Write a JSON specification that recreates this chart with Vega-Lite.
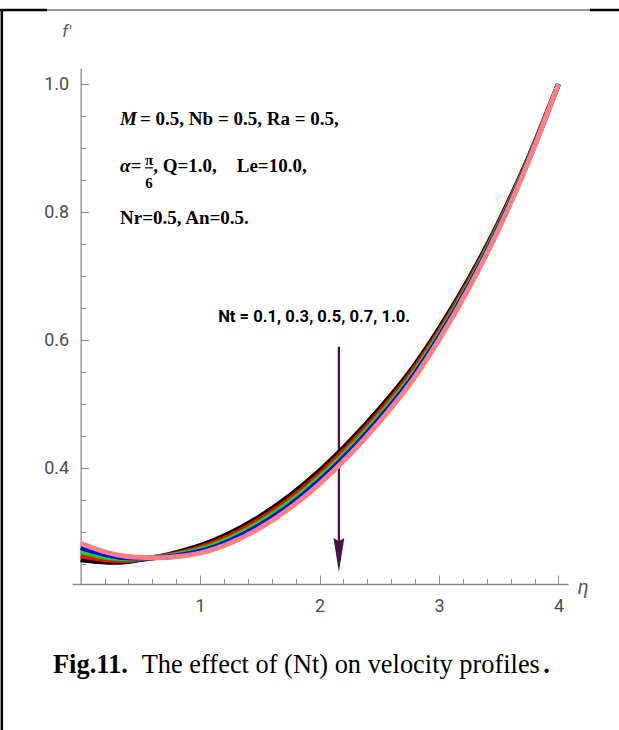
{
  "$schema": "https://vega.github.io/schema/vega-lite/v6.json",
  "width": 496,
  "height": 516,
  "autosize": "none",
  "padding": {"left": 72, "top": 68, "right": 51, "bottom": 146},
  "background": "white",
  "config": {"view": {"stroke": null}},
  "datasets": {
    "curves": [
      {"eta": 0, "fp": 0.2566, "Nt": "0.1"}, {"eta": 0.125, "fp": 0.2541, "Nt": "0.1"}, {"eta": 0.25, "fp": 0.2526, "Nt": "0.1"}, {"eta": 0.375, "fp": 0.2536, "Nt": "0.1"}, {"eta": 0.5, "fp": 0.2569, "Nt": "0.1"}, {"eta": 0.625, "fp": 0.2606, "Nt": "0.1"}, {"eta": 0.75, "fp": 0.2655, "Nt": "0.1"}, {"eta": 0.875, "fp": 0.2715, "Nt": "0.1"}, {"eta": 1.0, "fp": 0.2787, "Nt": "0.1"}, {"eta": 1.25, "fp": 0.2982, "Nt": "0.1"}, {"eta": 1.5, "fp": 0.3242, "Nt": "0.1"}, {"eta": 1.75, "fp": 0.3566, "Nt": "0.1"}, {"eta": 2.0, "fp": 0.3956, "Nt": "0.1"}, {"eta": 2.25, "fp": 0.441, "Nt": "0.1"}, {"eta": 2.5, "fp": 0.492, "Nt": "0.1"}, {"eta": 2.75, "fp": 0.5488, "Nt": "0.1"}, {"eta": 3.0, "fp": 0.6175, "Nt": "0.1"}, {"eta": 3.25, "fp": 0.6953, "Nt": "0.1"}, {"eta": 3.5, "fp": 0.784, "Nt": "0.1"}, {"eta": 3.75, "fp": 0.8853, "Nt": "0.1"}, {"eta": 4.0, "fp": 1.0, "Nt": "0.1"},
      {"eta": 0, "fp": 0.2630, "Nt": "0.3"}, {"eta": 0.125, "fp": 0.2590, "Nt": "0.3"}, {"eta": 0.25, "fp": 0.2561, "Nt": "0.3"}, {"eta": 0.375, "fp": 0.2557, "Nt": "0.3"}, {"eta": 0.5, "fp": 0.2578, "Nt": "0.3"}, {"eta": 0.625, "fp": 0.2604, "Nt": "0.3"}, {"eta": 0.75, "fp": 0.2643, "Nt": "0.3"}, {"eta": 0.875, "fp": 0.2694, "Nt": "0.3"}, {"eta": 1.0, "fp": 0.2758, "Nt": "0.3"}, {"eta": 1.25, "fp": 0.2943, "Nt": "0.3"}, {"eta": 1.5, "fp": 0.3197, "Nt": "0.3"}, {"eta": 1.75, "fp": 0.3517, "Nt": "0.3"}, {"eta": 2.0, "fp": 0.3905, "Nt": "0.3"}, {"eta": 2.25, "fp": 0.4358, "Nt": "0.3"}, {"eta": 2.5, "fp": 0.4869, "Nt": "0.3"}, {"eta": 2.75, "fp": 0.5440, "Nt": "0.3"}, {"eta": 3.0, "fp": 0.6132, "Nt": "0.3"}, {"eta": 3.25, "fp": 0.6917, "Nt": "0.3"}, {"eta": 3.5, "fp": 0.7813, "Nt": "0.3"}, {"eta": 3.75, "fp": 0.8838, "Nt": "0.3"}, {"eta": 4.0, "fp": 1.0, "Nt": "0.3"},
      {"eta": 0, "fp": 0.2694, "Nt": "0.5"}, {"eta": 0.125, "fp": 0.2639, "Nt": "0.5"}, {"eta": 0.25, "fp": 0.2596, "Nt": "0.5"}, {"eta": 0.375, "fp": 0.2578, "Nt": "0.5"}, {"eta": 0.5, "fp": 0.2587, "Nt": "0.5"}, {"eta": 0.625, "fp": 0.2602, "Nt": "0.5"}, {"eta": 0.75, "fp": 0.2631, "Nt": "0.5"}, {"eta": 0.875, "fp": 0.2673, "Nt": "0.5"}, {"eta": 1.0, "fp": 0.2729, "Nt": "0.5"}, {"eta": 1.25, "fp": 0.2904, "Nt": "0.5"}, {"eta": 1.5, "fp": 0.3152, "Nt": "0.5"}, {"eta": 1.75, "fp": 0.3468, "Nt": "0.5"}, {"eta": 2.0, "fp": 0.3854, "Nt": "0.5"}, {"eta": 2.25, "fp": 0.4306, "Nt": "0.5"}, {"eta": 2.5, "fp": 0.4818, "Nt": "0.5"}, {"eta": 2.75, "fp": 0.5392, "Nt": "0.5"}, {"eta": 3.0, "fp": 0.6089, "Nt": "0.5"}, {"eta": 3.25, "fp": 0.6881, "Nt": "0.5"}, {"eta": 3.5, "fp": 0.7786, "Nt": "0.5"}, {"eta": 3.75, "fp": 0.8823, "Nt": "0.5"}, {"eta": 4.0, "fp": 1.0, "Nt": "0.5"},
      {"eta": 0, "fp": 0.2758, "Nt": "0.7"}, {"eta": 0.125, "fp": 0.2688, "Nt": "0.7"}, {"eta": 0.25, "fp": 0.2631, "Nt": "0.7"}, {"eta": 0.375, "fp": 0.2599, "Nt": "0.7"}, {"eta": 0.5, "fp": 0.2596, "Nt": "0.7"}, {"eta": 0.625, "fp": 0.2600, "Nt": "0.7"}, {"eta": 0.75, "fp": 0.2619, "Nt": "0.7"}, {"eta": 0.875, "fp": 0.2652, "Nt": "0.7"}, {"eta": 1.0, "fp": 0.2700, "Nt": "0.7"}, {"eta": 1.25, "fp": 0.2865, "Nt": "0.7"}, {"eta": 1.5, "fp": 0.3107, "Nt": "0.7"}, {"eta": 1.75, "fp": 0.3419, "Nt": "0.7"}, {"eta": 2.0, "fp": 0.3803, "Nt": "0.7"}, {"eta": 2.25, "fp": 0.4254, "Nt": "0.7"}, {"eta": 2.5, "fp": 0.4767, "Nt": "0.7"}, {"eta": 2.75, "fp": 0.5344, "Nt": "0.7"}, {"eta": 3.0, "fp": 0.6046, "Nt": "0.7"}, {"eta": 3.25, "fp": 0.6845, "Nt": "0.7"}, {"eta": 3.5, "fp": 0.7759, "Nt": "0.7"}, {"eta": 3.75, "fp": 0.8808, "Nt": "0.7"}, {"eta": 4.0, "fp": 1.0, "Nt": "0.7"},
      {"eta": 0, "fp": 0.2822, "Nt": "1.0"}, {"eta": 0.125, "fp": 0.2737, "Nt": "1.0"}, {"eta": 0.25, "fp": 0.2666, "Nt": "1.0"}, {"eta": 0.375, "fp": 0.2620, "Nt": "1.0"}, {"eta": 0.5, "fp": 0.2605, "Nt": "1.0"}, {"eta": 0.625, "fp": 0.2598, "Nt": "1.0"}, {"eta": 0.75, "fp": 0.2607, "Nt": "1.0"}, {"eta": 0.875, "fp": 0.2631, "Nt": "1.0"}, {"eta": 1.0, "fp": 0.2671, "Nt": "1.0"}, {"eta": 1.25, "fp": 0.2826, "Nt": "1.0"}, {"eta": 1.5, "fp": 0.3062, "Nt": "1.0"}, {"eta": 1.75, "fp": 0.3370, "Nt": "1.0"}, {"eta": 2.0, "fp": 0.3752, "Nt": "1.0"}, {"eta": 2.25, "fp": 0.4202, "Nt": "1.0"}, {"eta": 2.5, "fp": 0.4716, "Nt": "1.0"}, {"eta": 2.75, "fp": 0.5296, "Nt": "1.0"}, {"eta": 3.0, "fp": 0.6003, "Nt": "1.0"}, {"eta": 3.25, "fp": 0.6809, "Nt": "1.0"}, {"eta": 3.5, "fp": 0.7732, "Nt": "1.0"}, {"eta": 3.75, "fp": 0.8793, "Nt": "1.0"}, {"eta": 4.0, "fp": 1.0, "Nt": "1.0"}
    ],
    "frame": [
      {"x1": -0.66, "x2": -0.66, "y1": 1.117, "y2": -0.03, "c": "#000000", "w": 2.5},
      {"x1": -0.72, "x2": -0.28, "y1": 1.1156, "y2": 1.1156, "c": "#000000", "w": 2.5},
      {"x1": -0.28, "x2": 4.264, "y1": 1.1156, "y2": 1.1156, "c": "#777777", "w": 1.6},
      {"x1": 4.264, "x2": 4.7, "y1": 1.1156, "y2": 1.1156, "c": "#000000", "w": 2.5}
    ]
  },
  "layer": [
    {
      "data": {"name": "frame"},
      "mark": {"type": "rule"},
      "encoding": {
        "x": {"field": "x1", "type": "quantitative", "scale": {"domain": [-0.0724, 4.08], "nice": false, "zero": false}, "axis": {"orient": "bottom", "values": [1, 2, 3, 4], "title": null, "grid": false, "domainColor": "#8c8c8c", "domainWidth": 1.3, "tickColor": "#8c8c8c", "tickSize": -9, "tickWidth": 1, "labelFont": "Roboto", "labelFontSize": 18, "labelColor": "#4d4d4d", "labelPadding": 22, "labelFlush": false, "labelOverlap": false}},
        "x2": {"field": "x2"},
        "y": {"field": "y1", "type": "quantitative", "scale": {"domain": [0.2188, 1.025], "nice": false, "zero": false}, "axis": {"orient": "left", "values": [0.4, 0.6, 0.8, 1.0], "format": ".1f", "offset": -8.65, "title": null, "grid": false, "domainColor": "#8c8c8c", "domainWidth": 1.3, "tickColor": "#8c8c8c", "tickSize": -8, "tickWidth": 1, "labelFont": "Roboto", "labelFontSize": 18, "labelColor": "#4d4d4d", "labelPadding": 20, "labelFlush": false, "labelOverlap": false}},
        "y2": {"field": "y2"},
        "color": {"field": "c", "type": "nominal", "scale": null},
        "strokeWidth": {"field": "w", "type": "quantitative", "scale": null}
      }
    },
    {
      "data": {"values": [{"eta": 2.162, "top": 0.5895, "bottom": 0.275}]},
      "mark": {"type": "rule", "color": "#4a0d4a", "strokeWidth": 2.3},
      "encoding": {
        "x": {"field": "eta", "type": "quantitative", "axis": {"orient": "bottom", "values": [0.2, 0.4, 0.6, 0.8, 1.2, 1.4, 1.6, 1.8, 2.2, 2.4, 2.6, 2.8, 3.2, 3.4, 3.6, 3.8], "labels": false, "domain": false, "title": null, "grid": false, "tickColor": "#8c8c8c", "tickSize": -5.5, "tickWidth": 1}},
        "y": {"field": "top", "type": "quantitative", "axis": {"orient": "left", "values": [0.25, 0.3, 0.35, 0.45, 0.5, 0.55, 0.65, 0.7, 0.75, 0.85, 0.9, 0.95], "labels": false, "domain": false, "offset": -8.65, "title": null, "grid": false, "tickColor": "#8c8c8c", "tickSize": -5, "tickWidth": 1}},
        "y2": {"field": "bottom"}
      }
    },
    {
      "data": {"name": "curves"},
      "mark": {"type": "line", "interpolate": "monotone", "strokeWidth": 5},
      "encoding": {
        "x": {"field": "eta", "type": "quantitative", "axis": null},
        "y": {"field": "fp", "type": "quantitative", "axis": null},
        "color": {"field": "Nt", "type": "nominal", "scale": {"domain": ["0.1", "0.3", "0.5", "0.7", "1.0"], "range": ["#000000", "#ff0000", "#00e000", "#0000ff", "#ff8080"]}, "legend": null}
      }
    },
    {
      "data": {"values": [{"eta": 2.162, "fp": 0.264}]},
      "mark": {"type": "point", "shape": "M-0.32,-1 L0,-0.82 L0.32,-1 L0,1 Z", "size": 1156, "filled": true, "color": "#4a0d4a", "opacity": 1},
      "encoding": {
        "x": {"field": "eta", "type": "quantitative", "axis": null},
        "y": {"field": "fp", "type": "quantitative", "axis": null}
      }
    },
    {
      "data": {"values": [{"eta": 0.3297, "fp": 0.936, "t": "M"}, {"eta": 0.3297, "fp": 0.8625, "t": "α="}]},
      "mark": {"type": "text", "align": "left", "baseline": "alphabetic", "font": "Liberation Serif", "fontWeight": "bold", "fontStyle": "italic", "fontSize": 19, "color": "#000000"},
      "encoding": {
        "x": {"field": "eta", "type": "quantitative", "axis": null},
        "y": {"field": "fp", "type": "quantitative", "axis": null},
        "text": {"field": "t"}
      }
    },
    {
      "data": {"values": [
        {"eta": 0.497, "fp": 0.936, "t": " = 0.5, Nb = 0.5, Ra = 0.5,"},
        {"eta": 0.607, "fp": 0.8625, "t": ", Q=1.0,"},
        {"eta": 1.307, "fp": 0.8625, "t": "Le=10.0,"},
        {"eta": 0.3297, "fp": 0.781, "t": "Nr=0.5, An=0.5."}
      ]},
      "mark": {"type": "text", "align": "left", "baseline": "alphabetic", "font": "Liberation Serif", "fontWeight": "bold", "fontSize": 19, "color": "#000000"},
      "encoding": {
        "x": {"field": "eta", "type": "quantitative", "axis": null},
        "y": {"field": "fp", "type": "quantitative", "axis": null},
        "text": {"field": "t"}
      }
    },
    {
      "data": {"values": [
        {"eta": 0.573, "fp": 0.8815, "t": "π"},
        {"eta": 0.573, "fp": 0.8455, "t": "6"}
      ]},
      "mark": {"type": "text", "align": "center", "baseline": "middle", "font": "Liberation Serif", "fontWeight": "bold", "fontSize": 15, "color": "#000000"},
      "encoding": {
        "x": {"field": "eta", "type": "quantitative", "axis": null},
        "y": {"field": "fp", "type": "quantitative", "axis": null},
        "text": {"field": "t"}
      }
    },
    {
      "data": {"values": [{"a": 0.539, "b": 0.606, "fp": 0.869}]},
      "mark": {"type": "rule", "color": "#000000", "strokeWidth": 1.2},
      "encoding": {
        "x": {"field": "a", "type": "quantitative", "axis": null},
        "x2": {"field": "b"},
        "y": {"field": "fp", "type": "quantitative", "axis": null}
      }
    },
    {
      "data": {"values": [{"eta": 1.151, "fp": 0.6286, "t": "Nt = 0.1, 0.3, 0.5, 0.7, 1.0."}]},
      "mark": {"type": "text", "align": "left", "baseline": "alphabetic", "font": "Roboto", "fontWeight": "bold", "fontSize": 16.6, "color": "#000000"},
      "encoding": {
        "x": {"field": "eta", "type": "quantitative", "axis": null},
        "y": {"field": "fp", "type": "quantitative", "axis": null},
        "text": {"field": "t"}
      }
    },
    {
      "data": {"values": [{"eta": -0.117, "fp": 1.0817, "t": "f′"}]},
      "mark": {"type": "text", "align": "center", "baseline": "middle", "font": "Roboto", "fontStyle": "italic", "fontSize": 17, "color": "#5a5a5a"},
      "encoding": {
        "x": {"field": "eta", "type": "quantitative", "axis": null},
        "y": {"field": "fp", "type": "quantitative", "axis": null},
        "text": {"field": "t"}
      }
    },
    {
      "data": {"values": [{"eta": 4.208, "fp": 0.2125, "t": "η"}]},
      "mark": {"type": "text", "align": "center", "baseline": "middle", "font": "Roboto", "fontStyle": "italic", "fontSize": 20, "color": "#5a5a5a"},
      "encoding": {
        "x": {"field": "eta", "type": "quantitative", "axis": null},
        "y": {"field": "fp", "type": "quantitative", "axis": null},
        "text": {"field": "t"}
      }
    },
    {
      "data": {"values": [{"eta": -0.2316, "fp": 0.0797, "t": "Fig.11."}, {"eta": 3.872, "fp": 0.0797, "t": "."}]},
      "mark": {"type": "text", "align": "left", "baseline": "alphabetic", "font": "Liberation Serif", "fontWeight": "bold", "fontSize": 26.4, "color": "#000000"},
      "encoding": {
        "x": {"field": "eta", "type": "quantitative", "axis": null},
        "y": {"field": "fp", "type": "quantitative", "axis": null},
        "text": {"field": "t"}
      }
    },
    {
      "data": {"values": [{"eta": 0.5113, "fp": 0.0797, "t": "The effect of (Nt) on velocity profiles"}]},
      "mark": {"type": "text", "align": "left", "baseline": "alphabetic", "font": "Liberation Serif", "fontWeight": "normal", "fontSize": 26.4, "color": "#000000"},
      "encoding": {
        "x": {"field": "eta", "type": "quantitative", "axis": null},
        "y": {"field": "fp", "type": "quantitative", "axis": null},
        "text": {"field": "t"}
      }
    }
  ],
  "resolve": {"axis": {"x": "independent", "y": "independent"}}
}
